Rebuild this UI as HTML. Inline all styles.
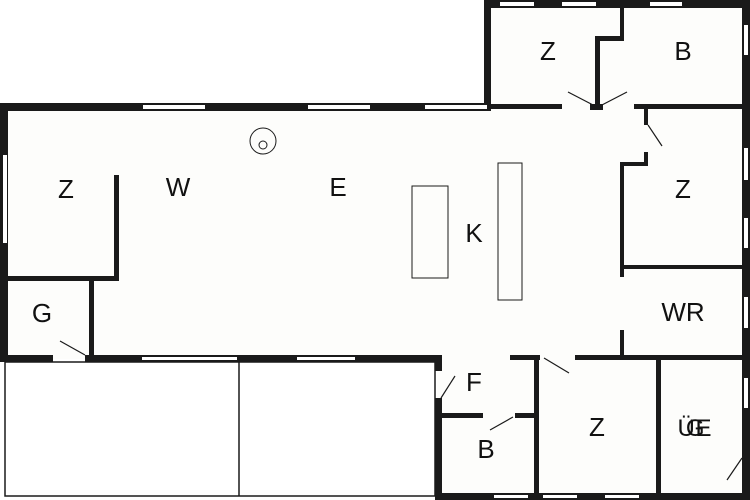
<!DOCTYPE html>
<html><head><style>body{margin:0;background:#fff}svg{display:block}text{font-family:"Liberation Sans",sans-serif;font-size:26px;fill:#111;text-anchor:middle}</style></head>
<body>
<svg width="750" height="500" viewBox="0 0 750 500">
<rect width="750" height="500" fill="#fff"/>
<rect x="0" y="103" width="490" height="256" fill="#fdfdfb"/>
<rect x="484" y="0" width="266" height="500" fill="#fdfdfb"/>
<rect x="437" y="355" width="313" height="145" fill="#fdfdfb"/>
<g fill="#1a1a1a">
<rect x="484" y="0" width="266" height="8"/>
<rect x="484" y="0" width="7" height="111"/>
<rect x="742" y="0" width="8" height="500"/>
<rect x="484" y="104" width="78" height="5"/>
<rect x="634" y="104" width="116" height="5"/>
<rect x="595" y="38" width="5" height="71"/>
<rect x="595" y="36" width="29" height="5"/>
<rect x="620" y="6" width="4" height="35"/>
<rect x="590" y="104" width="13" height="6"/>
<rect x="0" y="103" width="490" height="8"/>
<rect x="0" y="103" width="8" height="259"/>
<rect x="0" y="355" width="53" height="7"/>
<rect x="85" y="355" width="357" height="7"/>
<rect x="435" y="355" width="7" height="16"/>
<rect x="435" y="398" width="7" height="102"/>
<rect x="435" y="493" width="315" height="7"/>
<rect x="114" y="175" width="5" height="105"/>
<rect x="0" y="276" width="119" height="5"/>
<rect x="89" y="278" width="5" height="80"/>
<rect x="620" y="162" width="4" height="115"/>
<rect x="620" y="330" width="4" height="28"/>
<rect x="620" y="162" width="28" height="4"/>
<rect x="644" y="152" width="4" height="14"/>
<rect x="644" y="108" width="4" height="17"/>
<rect x="622" y="265" width="122" height="4"/>
<rect x="510" y="355" width="30" height="5"/>
<rect x="575" y="355" width="170" height="5"/>
<rect x="534" y="355" width="5" height="142"/>
<rect x="656" y="355" width="5" height="142"/>
<rect x="440" y="413" width="43" height="5"/>
<rect x="515" y="413" width="22" height="5"/>
</g>
<g fill="#fff">
<rect x="143" y="105" width="62" height="4"/><rect x="308" y="105" width="62" height="4"/><rect x="425" y="105" width="62" height="4"/>
<rect x="142" y="357" width="95" height="3"/><rect x="297" y="357" width="58" height="3"/>
<rect x="500" y="2" width="34" height="4"/><rect x="562" y="2" width="34" height="4"/><rect x="650" y="2" width="32" height="4"/>
<rect x="744" y="25" width="4" height="30"/><rect x="744" y="148" width="4" height="32"/><rect x="744" y="218" width="4" height="30"/><rect x="744" y="297" width="4" height="31"/><rect x="744" y="378" width="4" height="30"/>
<rect x="3" y="155" width="4" height="88"/>
<rect x="494" y="495" width="34" height="3"/><rect x="543" y="495" width="34" height="3"/><rect x="605" y="495" width="34" height="3"/>
</g>
<g fill="none" stroke="#1a1a1a" stroke-width="1.5">
<rect x="5" y="362" width="430" height="134"/>
<line x1="239" y1="362" x2="239" y2="496"/>
<rect x="412" y="186" width="36" height="92" stroke-width="1"/>
<rect x="498" y="163" width="24" height="137" stroke-width="1"/>
<circle cx="263" cy="141" r="13" stroke-width="1"/><circle cx="263" cy="145" r="4" stroke-width="1"/>
</g>
<g stroke="#1a1a1a" stroke-width="1.2">
<line x1="568" y1="92" x2="595" y2="106"/><line x1="627" y1="92" x2="600" y2="106"/>
<line x1="648" y1="125" x2="662" y2="146"/>
<line x1="60" y1="341" x2="85" y2="355"/>
<line x1="441" y1="398" x2="455" y2="376"/>
<line x1="544" y1="358" x2="569" y2="373"/>
<line x1="490" y1="430" x2="513" y2="417"/>
<line x1="727" y1="480" x2="742" y2="458"/>
</g>
<text x="548" y="60">Z</text><text x="683" y="60">B</text>
<text x="66" y="198">Z</text><text x="178" y="196">W</text><text x="338" y="196">E</text>
<text x="474" y="242">K</text><text x="683" y="198">Z</text><text x="683" y="321">WR</text>
<text x="42" y="322">G</text><text x="474" y="391">F</text><text x="486" y="458">B</text>
<text x="597" y="436">Z</text><text x="690" y="436" style="font-size:24px;letter-spacing:-9px">ÜGE</text>
</svg>
</body></html>
